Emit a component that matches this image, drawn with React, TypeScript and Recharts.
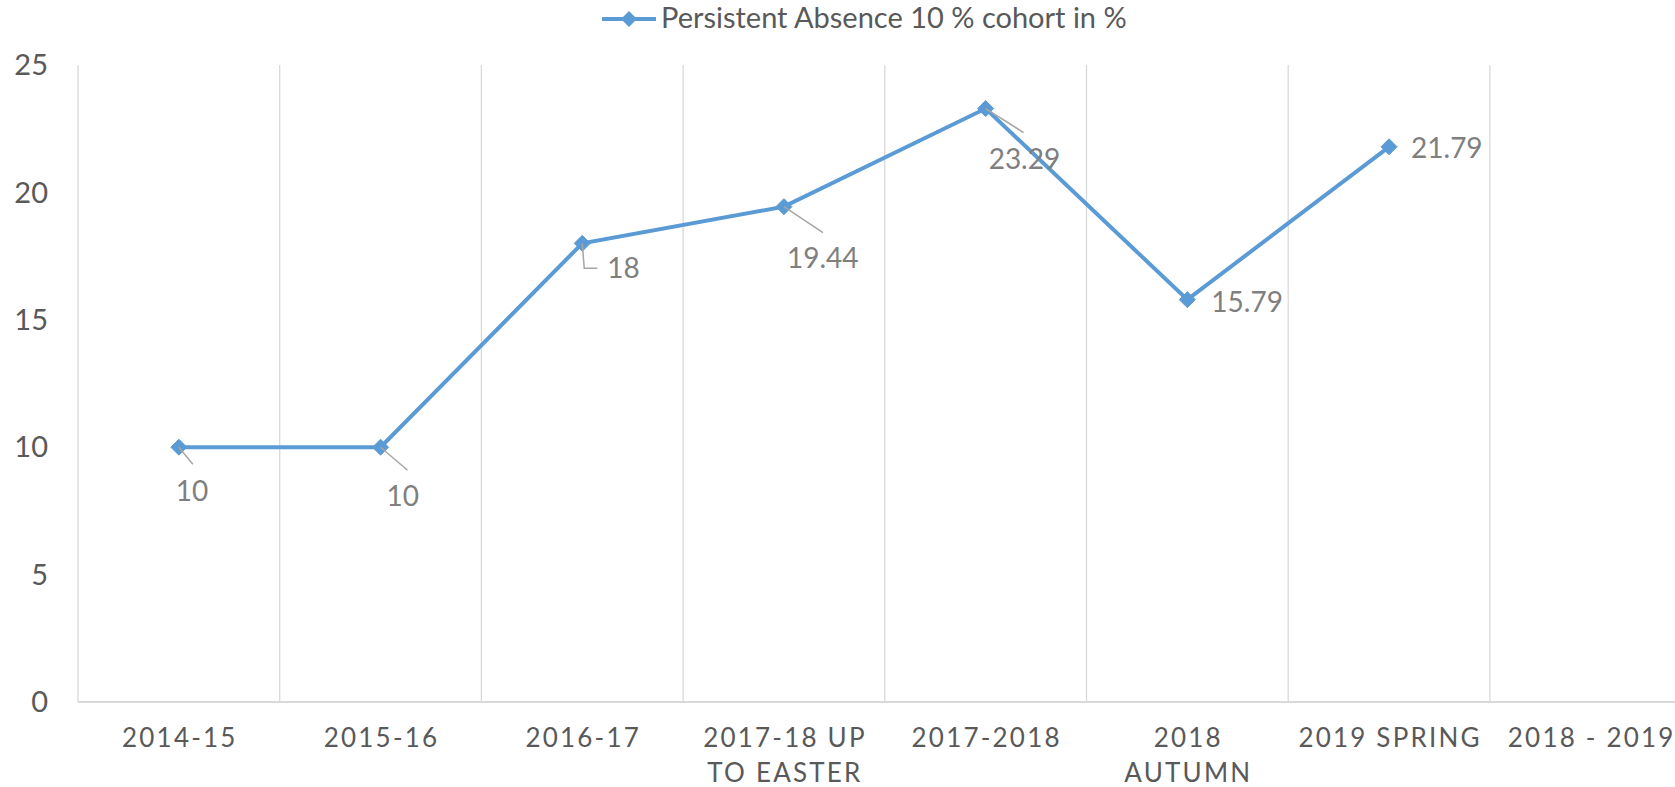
import React from "react";
import { LineChart, Line, XAxis, YAxis, CartesianGrid } from "recharts";

const categories = [
  "2014-15",
  "2015-16",
  "2016-17",
  "2017-18 UP\nTO EASTER",
  "2017-2018",
  "2018\nAUTUMN",
  "2019 SPRING",
  "2018 - 2019",
];
const values: (number | null)[] = [10, 10, 18, 19.44, 23.29, 15.79, 21.79, null];
const yTicks = [0, 5, 10, 15, 20, 25];
const seriesName = "Persistent Absence 10 % cohort in %";

// label placement styles (relative to the point), separate from data
const labelStyles = [
  { dx: -3, dy: 54, leader: [[14, 17]] },
  { dx: 6, dy: 59, leader: [[27, 23]] },
  { dx: 25, dy: 35, leader: [[2, 25], [15, 25]] },
  { dx: 3, dy: 61, leader: [[39, 26]] },
  { dx: 3, dy: 60, leader: [[38, 24]] },
  { dx: 24, dy: 12, leader: [] as number[][] },
  { dx: 22, dy: 11, leader: [] as number[][] },
  { dx: 0, dy: 0, leader: [] as number[][] },
];

const data = categories.map((c, i) => ({ cat: c, v: values[i] }));

const BLUE = "#5B9BD5";
const TEXT = "#595959";
const LABEL = "#7F7F7F";
const GRID = "#D9D9D9";
const FONT = "Lato, 'Open Sans', sans-serif";

const CHART_W = 1700;
const CHART_H = 787;

const XTick = (props: any) => {
  const { x, y, payload } = props;
  const lines = String(payload.value).split("\n");
  return (
    <g>
      {lines.map((l, i) => (
        <text
          key={i}
          x={x + 1}
          y={y + 45 + i * 35}
          textAnchor="middle"
          fill={TEXT}
          fontSize={26}
          letterSpacing={2.2}
          fontFamily={FONT}
        >
          {l}
        </text>
      ))}
    </g>
  );
};

const Diamond = (props: any) => {
  const { cx, cy, index } = props;
  if (cx == null || cy == null || props.value == null) return <g key={`d${index}`} />;
  const s = 8;
  return (
    <path
      key={`d${index}`}
      d={`M${cx},${cy - s} L${cx + s},${cy} L${cx},${cy + s} L${cx - s},${cy} Z`}
      fill={BLUE}
      stroke={BLUE}
      strokeWidth={1}
    />
  );
};

const DataLabel = (props: any) => {
  const { x, y, value, index } = props;
  if (value == null || x == null || y == null) return null;
  const st = labelStyles[index];
  const pts = [[0, 0], ...st.leader].map((p) => `${x + p[0]},${y + p[1]}`).join(" ");
  return (
    <g>
      {st.leader.length > 0 && (
        <polyline points={pts} fill="none" stroke="#A6A6A6" strokeWidth={1.5} />
      )}
      <text x={x + st.dx} y={y + st.dy} fill={LABEL} fontSize={28} fontFamily={FONT}>
        {value}
      </text>
    </g>
  );
};

export default function App() {
  return (
    <div
      style={{
        position: "fixed",
        left: 0,
        top: 0,
        width: 1675,
        height: 787,
        overflow: "hidden",
        background: "#fff",
        fontFamily: FONT,
      }}
    >
      <svg
        width={1675}
        height={50}
        style={{ position: "absolute", left: 0, top: 0, zIndex: 2 }}
      >
        <line x1={602} y1={19} x2={656} y2={19} stroke={BLUE} strokeWidth={4} />
        <path d="M629,11 L637,19 L629,27 L621,19 Z" fill={BLUE} />
        <text x={661} y={28} fill={TEXT} fontSize={29} fontFamily={FONT}>
          {seriesName}
        </text>
      </svg>
      <LineChart
        width={CHART_W}
        height={CHART_H}
        data={data}
        margin={{ top: 65, right: 8.4, left: 0, bottom: 0 }}
      >
        <CartesianGrid
          horizontal={false}
          stroke={GRID}
          strokeWidth={1.3}
          verticalCoordinatesGenerator={({ offset }: any) =>
            Array.from({ length: categories.length + 1 }, (_, i) => offset.left + (i * offset.width) / categories.length)
          }
        />
        <XAxis
          dataKey="cat"
          scale="point"
          padding={{ left: (CHART_W - 78 - 8.4) / 16, right: (CHART_W - 78 - 8.4) / 16 }}
          interval={0}
          height={85}
          tickLine={false}
          tickSize={0}
          tickMargin={0}
          axisLine={{ stroke: GRID, strokeWidth: 2 }}
          tick={<XTick />}
        />
        <YAxis
          width={78}
          domain={[0, 25]}
          ticks={yTicks}
          axisLine={false}
          tickLine={false}
          tickSize={0}
          tickMargin={30}
          tick={{ fill: TEXT, fontSize: 29, fontFamily: FONT }}
        />
        <Line
          dataKey="v"
          name={seriesName}
          stroke={BLUE}
          strokeWidth={4}
          dot={<Diamond />}
          activeDot={false}
          label={<DataLabel />}
          isAnimationActive={false}
        />
      </LineChart>
    </div>
  );
}
